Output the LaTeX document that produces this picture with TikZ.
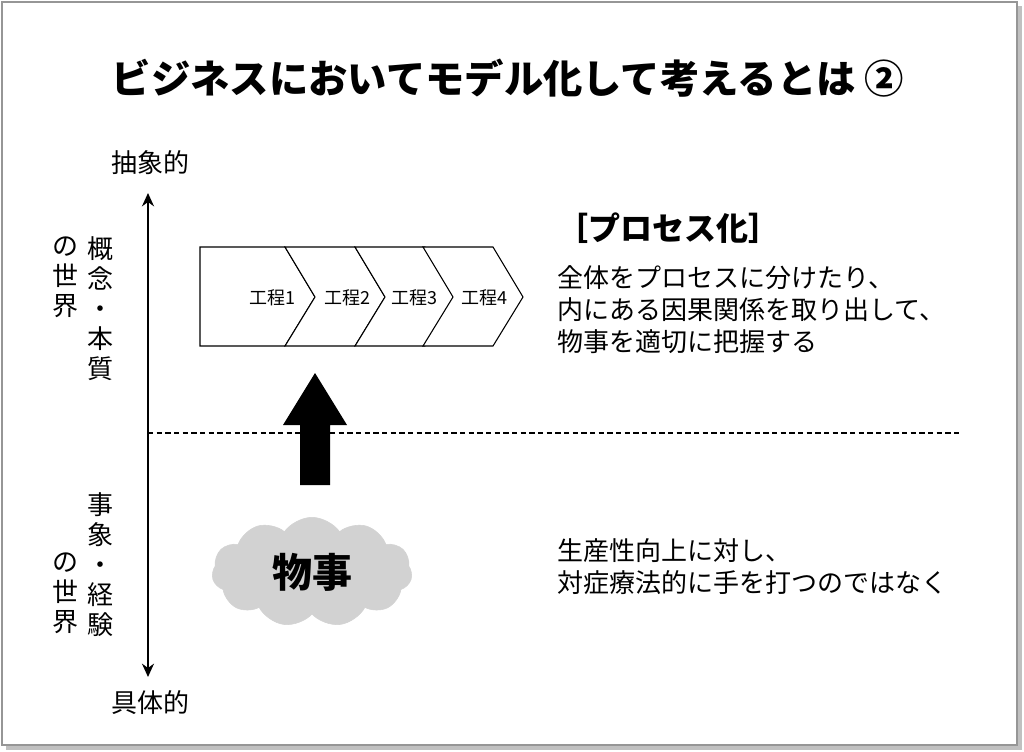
\documentclass[tikz,border=0pt]{standalone}
\usepackage{fontspec}
\setmainfont{Noto Sans CJK JP}
\usetikzlibrary{arrows.meta,shapes.symbols,positioning}
\definecolor{framegray}{RGB}{150,150,150}
\definecolor{cloudgray}{RGB}{210,210,210}
\tikzset{
  body/.style={font=\fontsize{19.5}{24}\selectfont, align=left, anchor=west},
  vtext/.style={font=\fontsize{19.5}{22.5}\selectfont, align=center, anchor=north},
  chevron/.style={draw, thick, fill=white},
  steplabel/.style={font=\fontsize{13.5}{16}\selectfont}
}
\begin{document}
\begin{tikzpicture}[x=0.75pt,y=-0.75pt]
  \useasboundingbox (0,0) rectangle (1024,752);
  % frame with shadow
  \fill[framegray!60] (6,6) rectangle (1022,750);
  \draw[framegray, fill=white, line width=1pt] (2,2) rectangle (1017,745);

  % title
  \node[font=\fontsize{29.5}{34}\selectfont\bfseries] (title) at (508,78) {ビジネスにおいてモデル化して考えるとは ②};

  % axis
  \node[font=\fontsize{19.5}{22}\selectfont] (top) at (150,163) {抽象的};
  \node[font=\fontsize{19.5}{22}\selectfont] (bottom) at (150,703) {具体的};
  \coordinate (axtop) at (148,193);
  \coordinate (axbot) at (148,677);
  \draw[{Stealth[length=10pt,width=9pt]}-{Stealth[length=10pt,width=9pt]}, line width=1.5pt] (axtop) -- (axbot);
  \coordinate (dashL) at (148,433);
  \coordinate (dashR) at (962,433);
  \draw[dash pattern=on 4pt off 2.5pt, thick] (dashL) -- (dashR);

  % vertical labels
  \node[vtext] (upper1) at (100,232) {概\\念\\・\\本\\質};
  \node[vtext] (upper2) at (65,232) {の\\世\\界};
  \node[vtext] (lower1) at (100,488) {事\\象\\・\\経\\験};
  \node[vtext] (lower2) at (65,548) {の\\世\\界};

  % process chevrons
  \draw[chevron] (200,247) -- (285,247) -- (315,297) -- (285,346) -- (200,346) -- cycle;
  \foreach \x in {285,355,423} {
    \draw[chevron] (\x,247) -- (\x+70,247) -- (\x+100,297) -- (\x+70,346) -- (\x,346) -- (\x+30,297) -- cycle;
  }
  \node[steplabel] (s1) at (272,298) {工程1};
  \node[steplabel] (s2) at (347,298) {工程2};
  \node[steplabel] (s3) at (414,298) {工程3};
  \node[steplabel] (s4) at (484,298) {工程4};

  % up arrow
  \fill (300,485) -- (300,425) -- (283,425) -- (315,373) -- (347,425) -- (330,425) -- (330,485) -- cycle;

  % cloud
  \node[cloud, cloud puffs=11, cloud puff arc=110, fill=cloudgray, draw=cloudgray,
        minimum width=150pt, minimum height=82pt] (cloud) at (312,572) {};
  \node[font=\fontsize{30}{34}\selectfont\bfseries] (thinglabel) at (cloud) {物事};

  % right texts
  \node[font=\fontsize{24}{28}\selectfont\bfseries] (proc) at (668,228) {［プロセス化］};
  \node[body] (desc) at (553,310) {全体をプロセスに分けたり、\\内にある因果関係を取り出して、\\物事を適切に把握する};
  \node[body] (note) at (553,567) {生産性向上に対し、\\対症療法的に手を打つのではなく};
\end{tikzpicture}
\end{document}
